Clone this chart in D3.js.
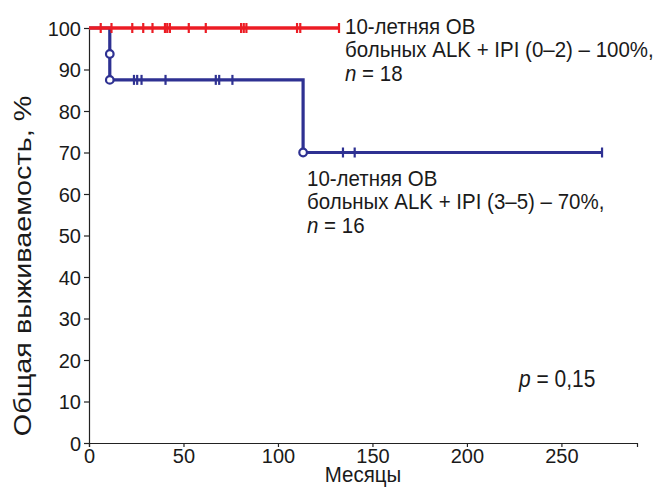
<!DOCTYPE html>
<html>
<head>
<meta charset="utf-8">
<script src="https://cdn.jsdelivr.net/npm/d3@7"></script>
<style>
  html, body { margin: 0; padding: 0; background: #fff; }
  svg { display: block; font-family: "Liberation Sans", Arial, sans-serif; }
</style>
</head>
<body>
<svg id="chart" width="667" height="488"></svg>
<script>
// Kaplan–Meier overall survival, ALK+ patients split by IPI group
const xTicks = [0, 50, 100, 150, 200, 250];
const yTicks = [0, 10, 20, 30, 40, 50, 60, 70, 80, 90, 100];
const xMax = 290;

// IPI 0–2: no events, censored follow-up times (months)
const lowRiskCurve = [[0, 100], [132.3, 100]];
const lowRiskCensored = [6.2, 11.9, 22.9, 28.7, 33.6, 40.2, 41.4, 42.8, 52.8, 61.8, 80.5, 81.9, 83.3, 110.1, 111.8, 132.3];

// IPI 3–5: step curve, events and censored times (months)
const highRiskCurve = [[0, 100], [11, 93.75], [11, 87.5], [113.3, 70], [271.5, 70]];
const highRiskEvents = [[11, 93.75], [11, 87.5], [113.3, 70]];
const highRiskCensored = [23.8, 25.5, 27.8, 40.5, 67.1, 68.9, 75.9, 134.4, 140.6, 271.5];

const lowRiskLabel = ["10-летняя ОВ", "больных ALK + IPI (0–2) – 100%,", "= 18"];
const highRiskLabel = ["10-летняя ОВ", "больных ALK + IPI (3–5) – 70%,", "= 16"];

const RED = "#ec1c24";
const BLUE = "#2e3192";
const INK = "#1a1a1a";
const STRETCH = 1.12;   // text is set slightly tall and narrow

const svg = d3.select("#chart");
const x = d3.scaleLinear().domain([0, xMax]).range([89, 637]);
const y = d3.scaleLinear().domain([0, 100]).range([443, 28]);

// axes
const xAxis = svg.append("g")
  .attr("transform", `translate(0,${y(0)})`)
  .call(d3.axisBottom(x).tickValues(xTicks).tickSize(4).tickSizeOuter(4).tickPadding(2));
const yAxis = svg.append("g")
  .attr("transform", `translate(${x(0)},0)`)
  .call(d3.axisLeft(y).tickValues(yTicks).tickSize(5).tickSizeOuter(5).tickPadding(3));

[xAxis, yAxis].forEach(g => {
  g.selectAll("path, line").attr("stroke", "#222").attr("stroke-width", 1.2);
  g.selectAll("text").attr("fill", INK).style("font-size", "20px")
    .style("font-family", "'Liberation Sans', Arial, sans-serif");
});
xAxis.selectAll("text").attr("dy", "0.72em");
yAxis.selectAll("text").attr("dy", "0.36em");

// axis titles
svg.append("text")
  .attr("transform", `translate(${x(xMax / 2)},482) scale(1,${STRETCH})`)
  .attr("text-anchor", "middle")
  .style("font-size", "20.5px").attr("fill", INK)
  .text("Месяцы");
svg.append("text")
  .attr("transform", `translate(31,266) rotate(-90) scale(1.2,1)`)
  .attr("text-anchor", "middle")
  .style("font-size", "24px").attr("fill", INK)
  .text("Общая выживаемость, %");

const stepLine = d3.line().x(d => x(d[0])).y(d => y(d[1])).curve(d3.curveStepAfter);

// IPI 3–5 curve
svg.append("path").datum(highRiskCurve)
  .attr("d", stepLine).attr("fill", "none")
  .attr("stroke", BLUE).attr("stroke-width", 3.2);
svg.append("g").selectAll("line").data(highRiskCensored).join("line")
  .attr("x1", d => x(d)).attr("x2", d => x(d))
  .attr("y1", d => y(d < 113.3 ? 87.5 : 70) - 5)
  .attr("y2", d => y(d < 113.3 ? 87.5 : 70) + 5)
  .attr("stroke", BLUE).attr("stroke-width", 2.2);
svg.append("g").selectAll("circle").data(highRiskEvents).join("circle")
  .attr("cx", d => x(d[0])).attr("cy", d => y(d[1])).attr("r", 3.8)
  .attr("fill", "#fff").attr("stroke", BLUE).attr("stroke-width", 2.2);

// IPI 0–2 curve
svg.append("path").datum(lowRiskCurve)
  .attr("d", stepLine).attr("fill", "none")
  .attr("stroke", RED).attr("stroke-width", 3.4);
svg.append("g").selectAll("line").data(lowRiskCensored).join("line")
  .attr("x1", d => x(d)).attr("x2", d => x(d))
  .attr("y1", y(100) - 5).attr("y2", y(100) + 5)
  .attr("stroke", RED).attr("stroke-width", 2.2);

// annotations
function note(lines, x0, y0) {
  const step = 23.3;
  lines.forEach((line, i) => {
    const t = svg.append("text")
      .attr("transform", `translate(${x0},${y0 + i * step}) scale(1,${STRETCH})`)
      .style("font-size", "20.5px").attr("fill", INK);
    if (i === 2) {
      t.append("tspan").style("font-style", "italic").text("n");
      t.append("tspan").text(" " + line);
    } else {
      t.text(line);
    }
  });
}
note(lowRiskLabel, 345, 34);
note(highRiskLabel, 307, 186);

const pText = svg.append("text")
  .attr("transform", `translate(519,387) scale(1,${STRETCH})`)
  .style("font-size", "21px").attr("fill", INK);
pText.append("tspan").style("font-style", "italic").text("p");
pText.append("tspan").text(" = 0,15");
</script>
</body>
</html>
